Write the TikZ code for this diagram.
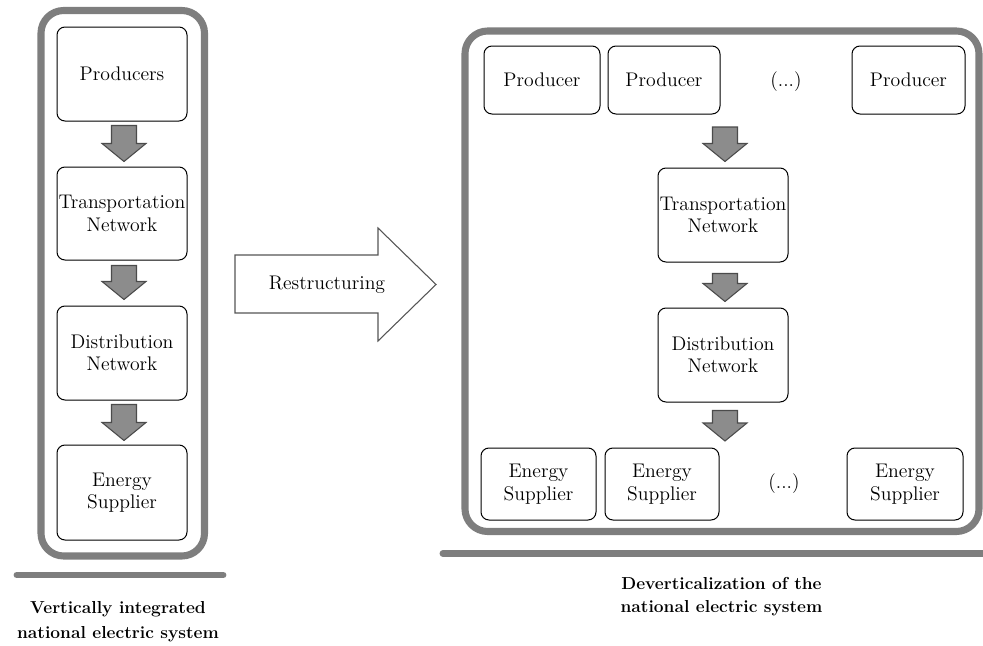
\documentclass[tikz,border=0pt]{standalone}
\usetikzlibrary{calc}

\definecolor{framegray}{RGB}{126,126,126}
\definecolor{blockfill}{RGB}{140,140,140}
\definecolor{blockline}{RGB}{75,75,75}
\definecolor{outlinegray}{RGB}{85,85,85}

\tikzset{
  stage/.style={draw=black, line width=0.75pt, rounded corners=6pt, fill=white,
    align=center, inner sep=0pt, font=\fontsize{14.8}{16.8}\selectfont},
  plain/.style={font=\fontsize{14.8}{16.8}\selectfont, inner sep=0pt},
  panel/.style={draw=framegray, line width=5.3pt, rounded corners=17pt},
  rulebar/.style={draw=framegray, line width=5.2pt, line cap=round},
  caption/.style={font=\bfseries\fontsize{13}{18.6}\selectfont, align=center, inner sep=0pt},
  blockarrow/.style={draw=blockline, fill=blockfill, line width=0.8pt, line join=miter},
  bigarrow/.style={draw=outlinegray, fill=white, line width=0.8pt, line join=miter},
}

% rounded box given by its corners (x1,y1) and (x2,y2)
\newcommand\stagebox[6]{%
  \node[stage, minimum width={(#4-#2)*0.75pt}, minimum height={(#5-#3)*0.75pt}]
    (#1) at ({(#2+#4)/2},{(#3+#5)/2}) {#6};}

% grey block arrow pointing down from coordinate #1 to tip #2
\newcommand\blockdown[2]{%
  \draw[blockarrow] ($(#1)+(-12.5,0)$) -- ($(#1)+(12.5,0)$) -- ($(#2)+(12.5,-18)$)
    -- ($(#2)+(22,-18)$) -- (#2) -- ($(#2)+(-22,-18)$) -- ($(#2)+(-12.5,-18)$) -- cycle;}

\begin{document}
\begin{tikzpicture}[x=0.75pt,y=-0.75pt]
\useasboundingbox (0,0) rectangle (983,646);

% ---------- vertically integrated system ----------
\draw[panel] (41,10.5) rectangle (204.5,556);
\stagebox{prodL}{57}{27}{187}{121}{Producers}
\stagebox{transL}{57}{167}{187}{260}{Transportation\\Network}
\stagebox{distL}{57}{306}{187}{400}{Distribution\\Network}
\stagebox{suppL}{57}{445}{187}{540}{Energy\\Supplier}

\coordinate (l1s) at ($(prodL.south)+(2,4)$);
\coordinate (l1e) at ($(transL.north)+(2,-5)$);
\coordinate (l2s) at ($(transL.south)+(2,5)$);
\coordinate (l2e) at ($(distL.north)+(2,-6)$);
\coordinate (l3s) at ($(distL.south)+(2,4)$);
\coordinate (l3e) at ($(suppL.north)+(2,-4)$);
\blockdown{l1s}{l1e}
\blockdown{l2s}{l2e}
\blockdown{l3s}{l3e}

\draw[rulebar] (17,575) -- (223,575);
\node[caption] (capL) at (118,622) {Vertically integrated\\national electric system};

% ---------- restructuring ----------
\draw[bigarrow] (235,255) -- (378,255) -- (378,228) -- (436,284.5)
  -- (378,341) -- (378,313) -- (235,313) -- cycle;
\node[plain] (restr) at (327,285) {Restructuring};

% ---------- deverticalized system ----------
\draw[panel] (465,31) rectangle (979,531.5);
\stagebox{prodA}{484}{46}{600}{114}{Producer}
\stagebox{prodB}{608}{46}{720}{114}{Producer}
\node[plain] (prodDots) at (786,82) {(...)};
\stagebox{prodC}{852}{46}{965}{114}{Producer}

\stagebox{transR}{658}{168}{788}{262}{Transportation\\Network}
\stagebox{distR}{658}{308}{788}{402}{Distribution\\Network}

\stagebox{suppA}{481}{448}{596}{520}{Energy\\Supplier}
\stagebox{suppB}{605}{448}{719}{520}{Energy\\Supplier}
\node[plain] (suppDots) at (784,484) {(...)};
\stagebox{suppC}{847}{448}{963}{520}{Energy\\Supplier}

\coordinate (prodrow) at (725,127);
\coordinate (r1e) at ($(transR.north)+(2,-6)$);
\coordinate (r2s) at ($(transR.south)+(2,11)$);
\coordinate (r2e) at ($(distR.north)+(2,-6)$);
\coordinate (r3s) at ($(distR.south)+(2,8)$);
\coordinate (supprow) at (725,441);
\blockdown{prodrow}{r1e}
\blockdown{r2s}{r2e}
\blockdown{r3s}{supprow}

\draw[rulebar] (443,553.5) -- (992,553.5);
\node[caption, font=\bfseries\fontsize{13}{17.3}\selectfont] (capR) at (721.5,596.5)
  {Deverticalization of the\\national electric system};
\end{tikzpicture}
\end{document}
